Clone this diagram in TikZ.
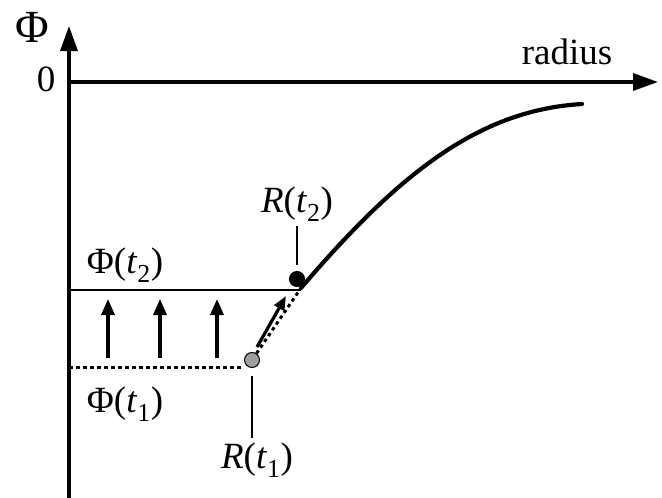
\documentclass[tikz,border=0pt]{standalone}
\usepackage{fontspec}
\setmainfont{Liberation Serif}
\usetikzlibrary{arrows.meta,positioning}

\begin{document}
\begin{tikzpicture}[x=1pt, y=-1pt,
  lbl/.style={font=\fontsize{37}{42}\selectfont, inner sep=0pt},
  biglbl/.style={font=\fontsize{46}{52}\selectfont, inner sep=0pt},
  axis/.style={line width=3.4pt, -{Triangle[length=25pt,width=17pt]}},
  uparr/.style={line width=3.2pt, -{Triangle[length=16pt,width=13pt]}},
  level/.style={line width=2.6pt},
  dotlevel/.style={line width=3pt, dash pattern=on 3.5pt off 3.5pt},
  curve/.style={line width=4.2pt, line cap=round},
  tick/.style={line width=1.5pt},
  dot/.style={circle, inner sep=0pt, minimum size=15pt, draw=black, line width=1pt},
]
\useasboundingbox (0,0) rectangle (662,498);

% axes
\coordinate (origin) at (69,82);
\coordinate (ybot) at (69,498);
\coordinate (ytop) at (69,26);
\coordinate (xend) at (658,82);
\draw[axis] (ybot) -- (ytop);
\draw[axis] (origin) -- (xend);

\node[biglbl] (phi) at (32,27) {Φ};
\node[lbl] (zero) at (46,79) {0};
\node[lbl] (radius) at (567,52) {radius};

% potential curve
\coordinate (kink) at (301,288);
\coordinate (tail) at (582,104);
\draw[curve] (kink) .. controls (400,172) and (480,110) .. (tail);

% particle positions
\node[dot, fill=gray!75] (tone) at (252,360) {};
\node[dot, fill=black] (ttwo) at (297,279) {};
\draw[dotlevel] (tone) -- (kink);

% levels
\coordinate (lvltwo) at (69,290);
\coordinate (lvlone) at (69,367);
\draw[level] (lvltwo) -- (kink |- lvltwo);
\draw[dotlevel] (lvlone) -- (tone.west |- lvlone);

\node[lbl] (phitwo) at (125,265) {Φ(\textit{t}\textsubscript{2})};
\node[lbl] (phione) at (125,404) {Φ(\textit{t}\textsubscript{1})};

% rising level
\foreach \x [count=\i] in {108,160,217} {
  \coordinate (lo\i) at (\x,358);
  \coordinate (hi\i) at (\x,299);
  \draw[uparr] (lo\i) -- (hi\i);
}
\coordinate (mvstart) at (257,347);
\coordinate (mvend) at (286,296);
\draw[uparr, -{Triangle[length=14pt,width=11pt]}] (mvstart) -- (mvend);

% position labels
\node[lbl] (rtwo) at (297,204) {\textit{R}(\textit{t}\textsubscript{2})};
\node[lbl] (rone) at (257,460) {\textit{R}(\textit{t}\textsubscript{1})};
\draw[tick, shorten <=5pt, shorten >=6pt] (rtwo) -- (ttwo);
\draw[tick, shorten <=5pt, shorten >=8pt] (rone.north -| tone) -- (tone);
\end{tikzpicture}
\end{document}
